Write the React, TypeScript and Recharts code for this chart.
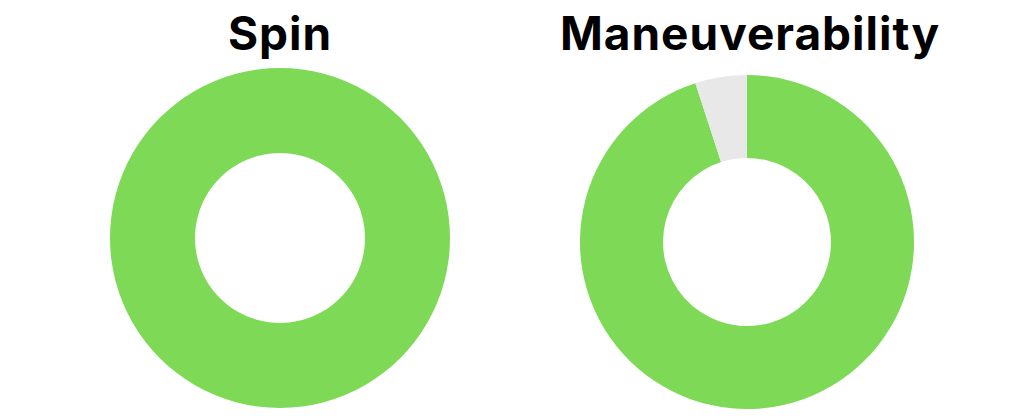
import React from "react";
import { PieChart, Pie, Cell } from "recharts";

const titles = ["Spin", "Maneuverability"];
const segmentNames = ["rating", "remaining"];
const spinValues = [100, 0];
const maneuverabilityValues = [95, 5];
const colors = ["#7ED957", "#E8E8E8"];

const toRows = (values: number[]) =>
  values.map((value, i) => ({ name: segmentNames[i], value }));

const spinData = toRows(spinValues);
const maneuverabilityData = toRows(maneuverabilityValues);

const titleStyle: React.CSSProperties = {
  position: "absolute",
  top: 7,
  width: 440,
  textAlign: "center",
  fontFamily: "Inter, 'Open Sans', sans-serif",
  fontWeight: 700,
  fontSize: 46,
  letterSpacing: 1,
  lineHeight: "52px",
  color: "#000",
};

const App: React.FC = () => {
  return (
    <div
      style={{
        position: "absolute",
        left: 0,
        top: 0,
        width: 1024,
        height: 416,
        background: "#fff",
      }}
    >
      <PieChart
        width={1024}
        height={416}
        margin={{ top: 0, right: 0, bottom: 0, left: 0 }}
      >
        <Pie
          data={spinData}
          dataKey="value"
          nameKey="name"
          cx={280}
          cy={238}
          innerRadius={85}
          outerRadius={170}
          startAngle={90}
          endAngle={-270}
          stroke="none"
          isAnimationActive={false}
        >
          {spinData.map((d, i) => (
            <Cell key={d.name} fill={colors[i]} />
          ))}
        </Pie>
        <Pie
          data={maneuverabilityData}
          dataKey="value"
          nameKey="name"
          cx={747}
          cy={242}
          innerRadius={84}
          outerRadius={167}
          startAngle={90}
          endAngle={-270}
          stroke="none"
          isAnimationActive={false}
        >
          {maneuverabilityData.map((d, i) => (
            <Cell key={d.name} fill={colors[i]} />
          ))}
        </Pie>
      </PieChart>
      <div style={{ ...titleStyle, left: 280 - 220 }}>{titles[0]}</div>
      <div style={{ ...titleStyle, left: 750 - 220 }}>{titles[1]}</div>
    </div>
  );
};

export default App;
